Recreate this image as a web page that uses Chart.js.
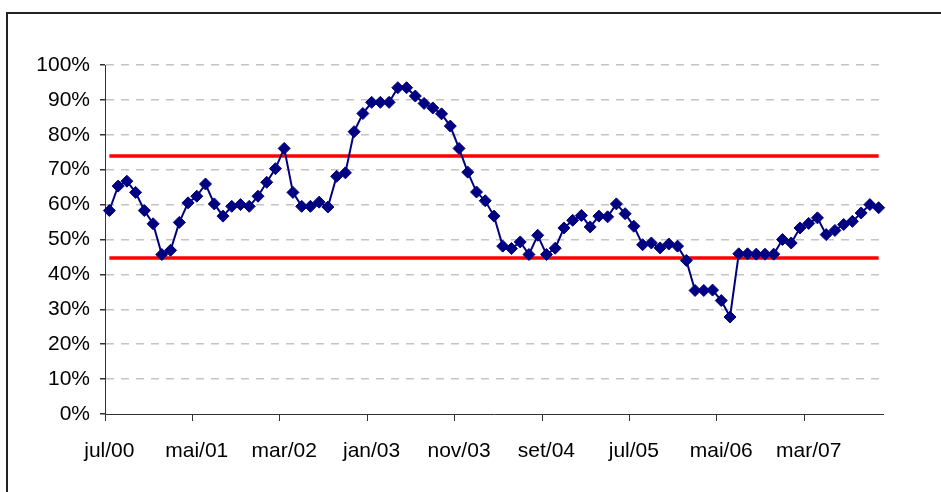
<!DOCTYPE html>
<html>
<head>
<meta charset="utf-8">
<script src="https://cdn.jsdelivr.net/npm/chart.js@4"></script>
<style>
  html, body { margin: 0; padding: 0; background: #fff; overflow: hidden; }
  #wrap { position: relative; width: 941px; height: 492px; }
  #frame { position: absolute; left: 6px; top: 12px; width: 1000px; height: 600px; border: 2px solid #222; box-sizing: border-box; }
  canvas { position: absolute; left: 0; top: 0; }
</style>
</head>
<body>
<div id="wrap">
  <div id="frame"></div>
  <canvas id="chart" width="941" height="492"></canvas>
</div>
<script>
// monthly labels, jul/00 .. nov/07
var months = [
  "jul/00","ago/00","set/00","out/00","nov/00","dez/00",
  "jan/01","fev/01","mar/01","abr/01","mai/01","jun/01","jul/01","ago/01","set/01","out/01","nov/01","dez/01",
  "jan/02","fev/02","mar/02","abr/02","mai/02","jun/02","jul/02","ago/02","set/02","out/02","nov/02","dez/02",
  "jan/03","fev/03","mar/03","abr/03","mai/03","jun/03","jul/03","ago/03","set/03","out/03","nov/03","dez/03",
  "jan/04","fev/04","mar/04","abr/04","mai/04","jun/04","jul/04","ago/04","set/04","out/04","nov/04","dez/04",
  "jan/05","fev/05","mar/05","abr/05","mai/05","jun/05","jul/05","ago/05","set/05","out/05","nov/05","dez/05",
  "jan/06","fev/06","mar/06","abr/06","mai/06","jun/06","jul/06","ago/06","set/06","out/06","nov/06","dez/06",
  "jan/07","fev/07","mar/07","abr/07","mai/07","jun/07","jul/07","ago/07","set/07","out/07","nov/07"
]

// percent values
var values = [
  58.3,65.3,66.7,63.5,58.3,54.5,45.7,46.9,54.9,60.5,
  62.4,65.9,60.2,56.7,59.5,60.0,59.5,62.4,66.4,70.3,
  76.1,63.5,59.5,59.5,60.7,59.3,68.1,69.1,80.9,86.1,
  89.3,89.3,89.3,93.5,93.5,91.1,89.0,87.7,86.0,82.5,
  76.1,69.3,63.6,61.1,56.7,48.1,47.4,49.3,45.7,51.2,
  45.7,47.5,53.3,55.5,56.9,53.6,56.7,56.5,60.2,57.4,
  53.8,48.5,49.0,47.6,48.7,48.1,44.0,35.4,35.4,35.5,
  32.5,27.8,45.9,45.9,45.8,45.8,45.8,50.0,49.0,53.3,
  54.6,56.2,51.4,52.6,54.3,55.2,57.6,60.0,59.1
]

// control limits
var upperLimit = 73.9
var lowerLimit = 44.7

var yTicks = [0,10,20,30,40,50,60,70,80,90,100]

var first = months[0]
var last = months[months.length-1]

var ctx = document.getElementById("chart").getContext('2d')
var chart = new Chart(ctx, {
  type: 'line',
  data: {
    labels: months,
    datasets: [
      {
        label: "valor",
        data: values,
        borderColor: "#000080",
        borderWidth: 2,
        pointStyle: 'rectRot',
        pointRadius: 6,
        pointBackgroundColor: "#000080",
        pointBorderColor: "#000080",
        pointBorderWidth: 1,
        tension: 0,
        order: 0
      },
      {
        label: "LSC",
        data: [{x: first, y: upperLimit}, {x: last, y: upperLimit}],
        borderColor: "#ff0000",
        borderWidth: 3.5,
        pointRadius: 0,
        order: 1
      },
      {
        label: "LIC",
        data: [{x: first, y: lowerLimit}, {x: last, y: lowerLimit}],
        borderColor: "#ff0000",
        borderWidth: 3.5,
        pointRadius: 0,
        order: 1
      }
    ]
  },
  options: {
    responsive: false,
    animation: false,
    layout: { padding: { top: 65, right: 58, left: 0, bottom: 0 } },
    plugins: { legend: { display: false }, tooltip: { enabled: false } },
    scales: {
      x: {
        type: 'category',
        offset: true,
        afterFit: function(s) { s.height = 78 },
        grid: {
          offset: true,
          drawOnChartArea: false,
          drawTicks: true,
          tickLength: 7,
          tickColor: function(c) { return (c.index % 10 === 0) ? '#333' : 'rgba(0,0,0,0)' }
        },
        border: { color: '#333', width: 1 },
        ticks: {
          autoSkip: false,
          maxRotation: 0,
          padding: 18,
          color: '#000',
          font: { family: 'Liberation Sans, Arial', size: 21 },
          callback: function(v, i) { return i % 10 === 0 ? months[i] : '' }
        }
      },
      y: {
        min: 0,
        max: 100,
        afterFit: function(s) { s.width = 105 },
        afterBuildTicks: function(s) { s.ticks = yTicks.map(function(v) { return {value: v} }) },
        grid: {
          color: function(c) { return c.tick && c.tick.value === 0 ? 'rgba(0,0,0,0)' : '#c4c4c4' },
          lineWidth: 1.5,
          tickLength: 5,
          tickColor: '#333'
        },
        border: { color: '#333', width: 1, dash: [8, 7] },
        ticks: {
          padding: 10,
          color: '#000',
          font: { family: 'Liberation Sans, Arial', size: 21 },
          callback: function(v) { return v + '%' }
        }
      }
    }
  }
})
</script>
</body>
</html>
